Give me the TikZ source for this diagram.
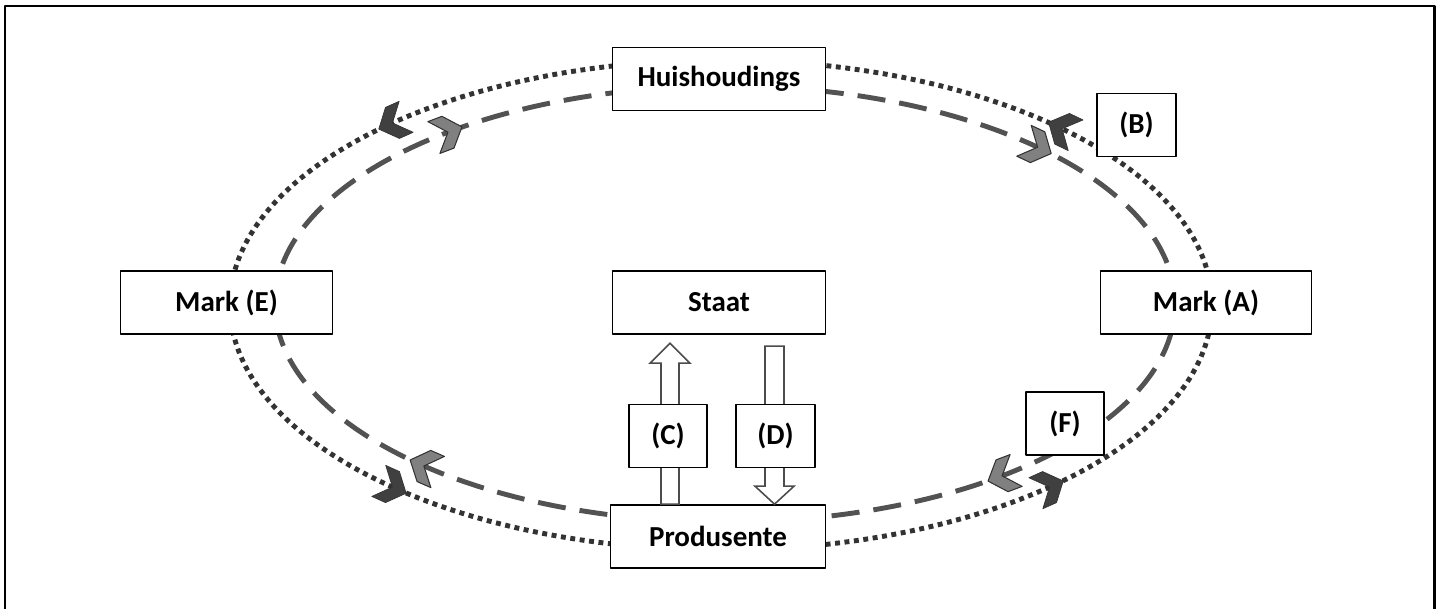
\documentclass[tikz,border=0pt]{standalone}
\usepackage{fontspec}
\setmainfont{Carlito}
\usetikzlibrary{calc}
\tikzset{
  blok/.style={draw=black, line width=0.8pt, fill=white, font=\fontsize{16.5}{19}\selectfont\bfseries,
    minimum width={#1*0.5669pt}, minimum height=36pt, inner sep=0pt},
  blok/.default=121,
  hol/.style={draw=black!70, line width=0.9pt, fill=white, line join=miter},
  puntjies/.style={draw=black!80, line width=2.8pt, dash pattern=on 2.8pt off 2.6pt},
  strepies/.style={draw=black!68, line width=2.8pt, dash pattern=on 16pt off 8pt},
  donker/.style={fill=black!75, draw=black!80, line width=0.4pt},
  lig/.style={fill=black!50, draw=black!80, line width=0.6pt}
}
% chevron op ellips: middelpunt, rx, ry, hoek, draai, styl
\newcommand\kepie[7]{%
  \pgfmathsetmacro\kx{#1+#3*cos(#5)}
  \pgfmathsetmacro\ky{#2+#4*sin(#5)}
  \pgfmathsetmacro\ka{atan2(#4*cos(#5),-#3*sin(#5))+#6}
  \filldraw[#7,shift={(\kx,\ky)},rotate=\ka] (-15,17)--(0,17)--(15,0)--(0,-17)--(-15,-17)--(0,0)--cycle;
}
\begin{document}
\begin{tikzpicture}[x=0.02cm,y=0.02cm, line join=round]
		\useasboundingbox (0,0) rectangle (1442,-608);
		\draw[line width=1.7pt] (5,-620)--(5,-6)--(1434,-6)--(1434,-620);
		\def\ox{721} \def\oy{-305} \def\orx{491} \def\ory{245} % buitenste
		\def\ix{725} \def\iy{-304} \def\irx{450} \def\iry{218} % binneste
		\draw[puntjies] (\ox,\oy) ellipse [x radius=\orx, y radius=\ory];
		\draw[strepies] (\ix,\iy) ellipse [x radius=\irx, y radius=\iry];
		\foreach \t in {46,132,228,312} {\kepie{\ox}{\oy}{\orx}{\ory}{\t}{0}{donker}}
		\foreach \t in {46,128,228,308} {\kepie{\ix}{\iy}{\irx}{\iry}{\t}{180}{lig}}
		% blokke
		\node[blok=214] (huis) at (719,-79) {Huishoudings};
		\node[blok=79] (b) at (1136.5,-125) {(B)};
		\node[blok=213] (marke) at (226.5,-302.5) {Mark (E)};
		\node[blok=214] (staat) at (719,-302.5) {Staat};
		\node[blok=212] (marka) at (1206,-302.5) {Mark (A)};
		\node[blok=216] (prod) at (718,-536.5) {Produsente};
		% pyle tussen produsente en staat
		\draw[hol] ($(prod.north)+(-57,0)$) -- ++(0,141) -- ++(-11,0) -- ++(20,20) -- ++(20,-20) -- ++(-11,0) -- ++(0,-141) -- cycle;
		\draw[hol] ($(prod.north)+(56.5,0)$) -- ++(-19.5,18) -- ++(10,0) -- ++(0,140) -- ++(19,0) -- ++(0,-140) -- ++(10,0) -- cycle;
		\node[blok=78] (c) at (668,-436) {(C)};
		\node[blok=79] (d) at (775.5,-436) {(D)};
		\node[blok=78] (f) at (1065,-423.5) {(F)};
\end{tikzpicture}
\end{document}
